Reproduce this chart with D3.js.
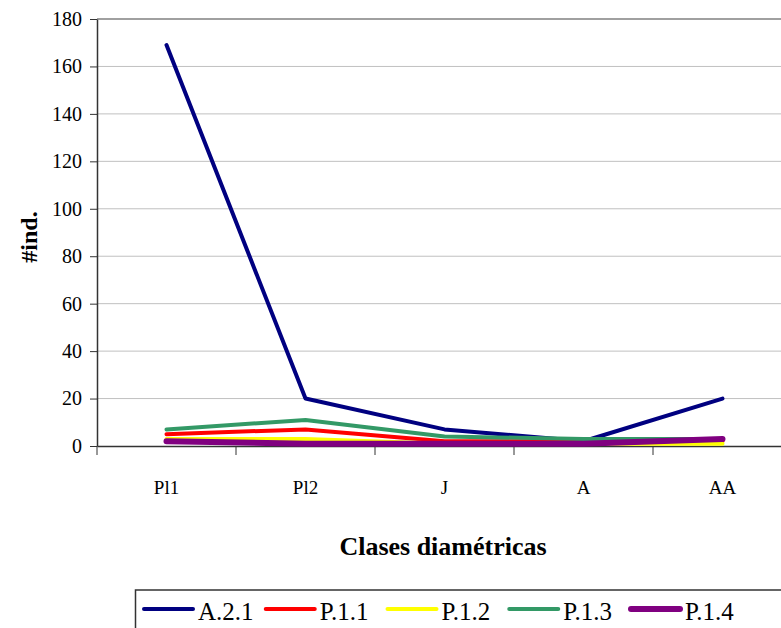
<!DOCTYPE html>
<html>
<head>
<meta charset="utf-8">
<script src="https://cdn.jsdelivr.net/npm/d3@7/dist/d3.min.js"></script>
<style>
  html, body { margin: 0; padding: 0; background: #fff; }
  svg { display: block; }
  svg text { font-family: "Liberation Serif", Tinos, "Times New Roman", "DejaVu Serif", serif; fill: #000; }
</style>
</head>
<body>
<svg id="chart" width="781" height="628"></svg>
<script>
// Diameter classes
const categories = ["Pl1", "Pl2", "J", "A", "AA"];
// Individuals per class for each plot
const seriesNames = ["A.2.1", "P.1.1", "P.1.2", "P.1.3", "P.1.4"];
const valuesA21 = [169, 20, 7, 2, 20];
const valuesP11 = [5, 7, 2, 2, 2];
const valuesP12 = [3, 3, 1, 1, 1];
const valuesP13 = [7, 11, 4, 3, 3];
const valuesP14 = [2, 1, 1, 1, 3];
const yTicks = [0, 20, 40, 60, 80, 100, 120, 140, 160, 180];

const seriesColors = ["#000080", "#ff0000", "#ffff00", "#339966", "#800080"];
const seriesWidths = [4, 4, 4, 4, 6];
const seriesValues = [valuesA21, valuesP11, valuesP12, valuesP13, valuesP14];

const svg = d3.select("#chart");
const plotLeft = 97, plotRight = 792, plotTop = 19, plotBottom = 446;

const x = d3.scaleBand().domain(categories).range([plotLeft, plotRight]).padding(0);
const y = d3.scaleLinear().domain([0, 180]).range([plotBottom, plotTop]);

// Horizontal gridlines
svg.append("g")
  .selectAll("line")
  .data(yTicks.filter(t => t > 0 && t < 180))
  .join("line")
  .attr("x1", plotLeft).attr("x2", plotRight)
  .attr("y1", d => y(d)).attr("y2", d => y(d))
  .attr("stroke", "#c0c0c0").attr("stroke-width", 1);

// Plot area frame (top edge)
svg.append("line")
  .attr("x1", plotLeft).attr("x2", plotRight)
  .attr("y1", y(180)).attr("y2", y(180))
  .attr("stroke", "#808080").attr("stroke-width", 1.5);

// Y axis
const yAxis = svg.append("g")
  .attr("transform", `translate(${plotLeft},0)`)
  .call(d3.axisLeft(y).tickValues(yTicks).tickSize(7).tickPadding(8).tickSizeOuter(0));
yAxis.attr("font-family", null).attr("font-size", null);
yAxis.select(".domain").attr("stroke", "#333").attr("stroke-width", 1.5);
yAxis.selectAll(".tick line").attr("stroke", "#333");
yAxis.selectAll("text").style("font-size", "20px");

// X axis: labels at band centres, ticks at band boundaries
const xAxis = svg.append("g")
  .attr("transform", `translate(0,${plotBottom})`)
  .call(d3.axisBottom(x).tickSize(0).tickPadding(35).tickSizeOuter(0));
xAxis.attr("font-family", null).attr("font-size", null);
xAxis.select(".domain").attr("stroke", "#333").attr("stroke-width", 1.5);
xAxis.selectAll("text").style("font-size", "19px");
xAxis.append("g")
  .selectAll("line")
  .data(categories)
  .join("line")
  .attr("x1", d => x(d)).attr("x2", d => x(d))
  .attr("y1", 0).attr("y2", 9)
  .attr("stroke", "#333").attr("stroke-width", 1);

// Series lines
const line = d3.line()
  .x((d, i) => x(categories[i]) + x.bandwidth() / 2)
  .y(d => y(d));

svg.append("g")
  .selectAll("path")
  .data(seriesValues)
  .join("path")
  .attr("d", d => line(d))
  .attr("fill", "none")
  .attr("stroke", (d, i) => seriesColors[i])
  .attr("stroke-width", (d, i) => seriesWidths[i])
  .attr("stroke-linejoin", "round")
  .attr("stroke-linecap", "round");

// Axis titles
svg.append("text")
  .attr("transform", "translate(37,237) rotate(-90)")
  .attr("text-anchor", "middle")
  .style("font-size", "24px").style("font-weight", "bold")
  .text("#ind.");

svg.append("text")
  .attr("x", 443).attr("y", 555)
  .attr("text-anchor", "middle")
  .style("font-size", "26px").style("font-weight", "bold")
  .text("Clases diamétricas");

// Legend
const legend = svg.append("g");
legend.append("rect")
  .attr("x", 135.5).attr("y", 590).attr("width", 660).attr("height", 50)
  .attr("fill", "#fff").attr("stroke", "#333").attr("stroke-width", 1.5);

const legendX = d3.scalePoint().domain(seriesNames).range([144, 631]);
const item = legend.selectAll("g.item")
  .data(seriesNames)
  .join("g")
  .attr("class", "item")
  .attr("transform", d => `translate(${legendX(d)},609)`);
item.append("line")
  .attr("x1", 0).attr("x2", 49).attr("y1", 0).attr("y2", 0)
  .attr("stroke", (d, i) => seriesColors[i])
  .attr("stroke-width", (d, i) => seriesWidths[i])
  .attr("stroke-linecap", "round");
item.append("text")
  .attr("x", 54).attr("y", 11)
  .style("font-size", "25px")
  .text(d => d);
</script>
</body>
</html>
